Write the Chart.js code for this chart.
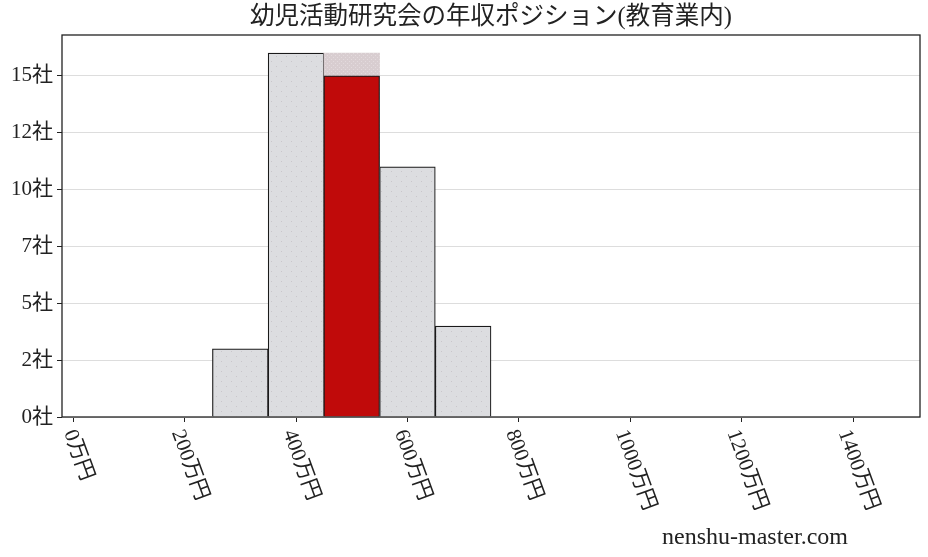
<!DOCTYPE html>
<html>
<head>
<meta charset="utf-8">
<script src="https://cdn.jsdelivr.net/npm/chart.js@4"></script>
<style>
    html, body { margin: 0; padding: 0; background: #fff; }
    #wrap { width: 928px; height: 557px; }
</style>
</head>
<body>
<div id="wrap"><canvas id="chart" width="928" height="557"></canvas></div>
<script>
// --------------------------------------------------------------------
// DATA
// --------------------------------------------------------------------
const titleText = "幼児活動研究会の年収ポジション(教育業内)";
const binCenters = [300, 400, 500, 600, 700];      // 万円
const binCounts = [3, 16, 16, 11, 4];               // 社
const companyBin = 500;
const companyCount = 15;
const xTickValues = [0, 200, 400, 600, 800, 1000, 1200, 1400];
const xTickLabels = ["0万円", "200万円", "400万円", "600万円", "800万円", "1000万円", "1200万円", "1400万円"];
const yTickValues = [0, 2.5, 5, 7.5, 10, 12.5, 15];
const yTickLabels = ["0社", "2社", "5社", "7社", "10社", "12社", "15社"];
const watermark = "nenshu-master.com";

const FONT = '"Liberation Serif", "Noto Sans CJK JP", serif';

// --------------------------------------------------------------------
// DOT PATTERNS
// --------------------------------------------------------------------
function makePattern(base, dot, step) {
    const c = document.createElement("canvas");
    c.width = step; c.height = step;
    const g = c.getContext("2d");
    g.fillStyle = base;
    g.fillRect(0, 0, step, step);
    g.fillStyle = dot;
    g.fillRect(1, 1, 1, 1);
    g.fillRect(1 + step / 2, 1 + step / 2, 1, 1);
    return g.createPattern(c, "repeat");
}
const grayFill = makePattern("#dcdde0", "#c9c6cb", 10);
const pinkFill = makePattern("#d8cdd0", "#e3dadd", 4);

const grayData = binCenters
    .map((x, i) => ({ x: x, y: binCounts[i] }))
    .filter(p => p.x !== companyBin);
const pinkData = [{ x: companyBin, y: binCounts[binCenters.indexOf(companyBin)] }];
const redData = [{ x: companyBin, y: companyCount }];

// --------------------------------------------------------------------
// PLUGINS: title, frame, rotated x labels, watermark
// --------------------------------------------------------------------
const extras = {
    id: "extras",
    afterDraw(chart) {
        const ctx = chart.ctx;
        const a = chart.chartArea;
        const xs = chart.scales.x;

        ctx.save();
        ctx.strokeStyle = "#222";
        ctx.lineWidth = 1.3;
        ctx.strokeRect(a.left, a.top, a.right - a.left, a.bottom - a.top);

        ctx.fillStyle = "#222";
        ctx.font = "24.5px " + FONT;
        ctx.textAlign = "center";
        ctx.textBaseline = "middle";
        ctx.fillText(titleText, (a.left + a.right) / 2, 18);

        // x labels rotated clockwise
        const ang = 70 * Math.PI / 180;
        ctx.font = "21px " + FONT;
        xTickValues.forEach((v, i) => {
            const w = ctx.measureText(xTickLabels[i]).width;
            const h = 21;
            const bh = w * Math.sin(ang) + h * Math.cos(ang);
            const px = xs.getPixelForValue(v) + 5;
            const py = a.bottom + 10 + bh / 2;
            ctx.save();
            ctx.translate(px, py);
            ctx.rotate(ang);
            ctx.fillText(xTickLabels[i], 0, 0);
            ctx.restore();
        });

        ctx.font = "24px " + FONT;
        ctx.textAlign = "right";
        ctx.textBaseline = "alphabetic";
        ctx.fillText(watermark, 848, 544);
        ctx.restore();
    }
};

// --------------------------------------------------------------------
// CHART
// --------------------------------------------------------------------
new Chart(document.getElementById("chart"), {
    type: "bar",
    data: {
        datasets: [
            {
                data: redData,
                backgroundColor: "#c00a0a",
                borderColor: "#1a1a1a",
                borderWidth: 1.2,
                order: 1
            },
            {
                data: pinkData,
                backgroundColor: pinkFill,
                borderWidth: 0,
                order: 2
            },
            {
                data: grayData,
                backgroundColor: grayFill,
                borderColor: "#1a1a1a",
                borderWidth: 1.2,
                order: 3
            }
        ]
    },
    options: {
        responsive: false,
        animation: false,
        grouped: false,
        barPercentage: 1,
        categoryPercentage: 1,
        layout: { padding: { left: 0, right: 8, top: 35, bottom: 0 } },
        plugins: {
            legend: { display: false },
            tooltip: { enabled: false },
            title: { display: false }
        },
        scales: {
            x: {
                type: "linear",
                offset: false,
                min: -20,
                max: 1520,
                afterBuildTicks: s => { s.ticks = xTickValues.map(v => ({ value: v })); },
                afterFit: s => { s.height = 140; },
                ticks: { display: false },
                grid: {
                    offset: false,
                    drawOnChartArea: false,
                    drawTicks: true,
                    tickLength: 5,
                    tickColor: "#222",
                    tickWidth: 1
                },
                border: { display: false }
            },
            y: {
                min: 0,
                max: 16.8,
                afterBuildTicks: s => { s.ticks = yTickValues.map(v => ({ value: v })); },
                afterFit: s => { s.width = 62; },
                ticks: {
                    color: "#222",
                    padding: 4,
                    font: { family: FONT, size: 21 },
                    callback: (v, i) => yTickLabels[i]
                },
                grid: {
                    color: "#dddddd",
                    lineWidth: 1,
                    tickLength: 5,
                    tickColor: "#222"
                },
                border: { display: false }
            }
        }
    },
    plugins: [extras]
});
</script>
</body>
</html>
